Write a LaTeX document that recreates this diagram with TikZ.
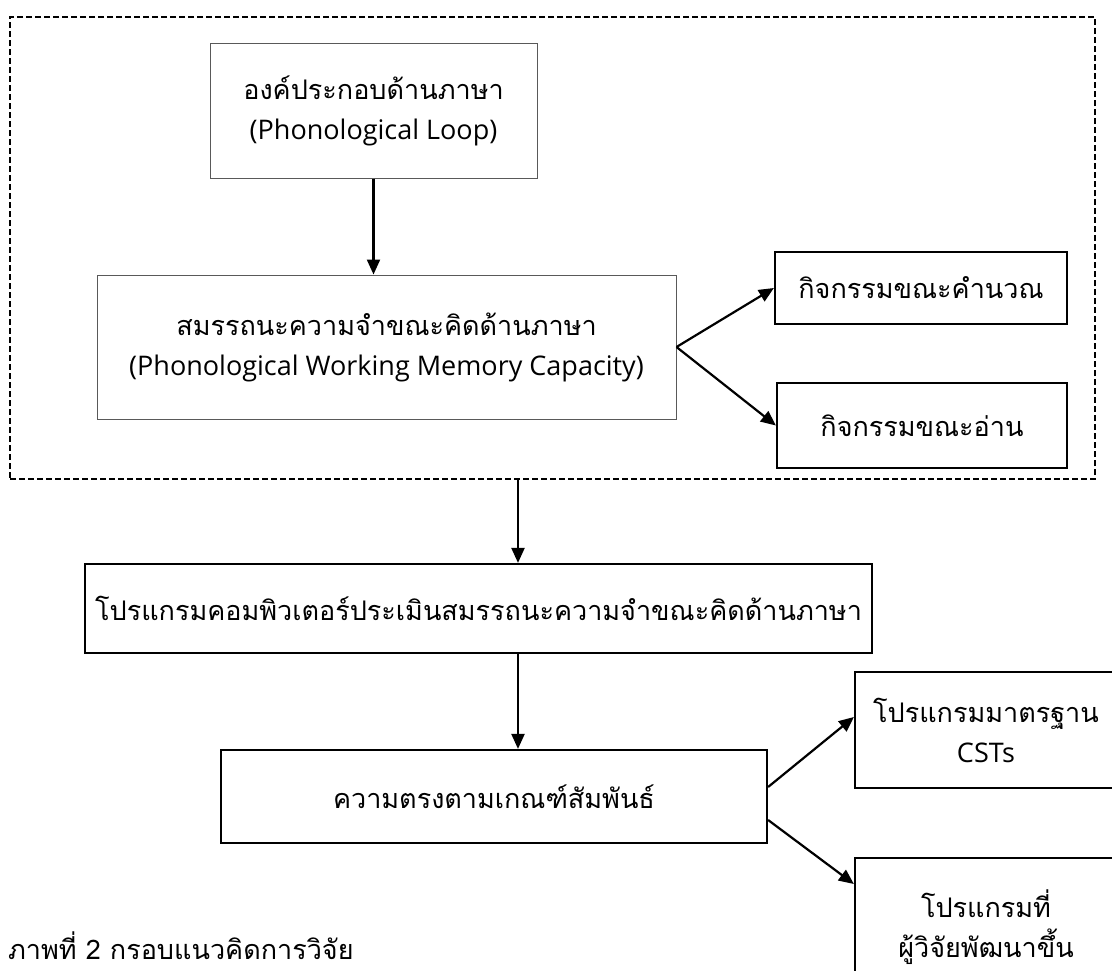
\documentclass[tikz,border=0pt]{standalone}
\usepackage{fontspec}
\setmainfont{Open Sans}
\newfontfamily\thai[Script=Thai]{Loma}
\usetikzlibrary{arrows.meta,calc}
\begin{document}
\begin{tikzpicture}[x=1pt,y=-1pt,
  txt/.style={font=\fontsize{27}{40}\selectfont},
  thaitxt/.style={font=\fontsize{27}{40}\selectfont\thai},
  box/.style={draw=black,line width=2.2pt,align=center,inner sep=0pt,txt},
  gbox/.style={box,draw=black!65,line width=1pt},
  arr/.style={line width=2.2pt,-{Triangle[length=15pt,width=13pt]}},
  framebox/.style={draw,line width=1.6pt,dash pattern=on 6pt off 3pt,inner sep=0pt}]
\useasboundingbox (0,0) rectangle (1112,970);
\node[framebox,minimum width=1085pt,minimum height=462pt] (frm) at (552.5,248) {};
\node[gbox,minimum width=327pt,minimum height=135pt] (loop) at (373.5,110.5) {{\thai องค์ประกอบด้านภาษา}\\(Phonological Loop)};
\node[gbox,minimum width=579pt,minimum height=144pt] (pwmc) at (386.5,347) {{\thai สมรรถนะความจำขณะคิดด้านภาษา}\\(Phonological Working Memory Capacity)};
\node[box,thaitxt,minimum width=292pt,minimum height=72pt] (calc) at (921,288) {กิจกรรมขณะคำนวณ};
\node[box,thaitxt,minimum width=290pt,minimum height=85pt] (read) at (922,425.5) {กิจกรรมขณะอ่าน};
\node[box,thaitxt,minimum width=787pt,minimum height=89pt] (prog) at (478.5,608.5) {โปรแกรมคอมพิวเตอร์ประเมินสมรรถนะความจำขณะคิดด้านภาษา};
\node[box,thaitxt,minimum width=546pt,minimum height=93pt] (crit) at (494,796.5) {ความตรงตามเกณฑ์สัมพันธ์};
\node[box,minimum width=262pt,minimum height=116pt] (csts) at (986,730) {{\thai โปรแกรมมาตรฐาน}\\CSTs};
\node[box,minimum width=262pt,minimum height=138pt] (dev) at (986,927) {{\thai โปรแกรมที่}\\{\thai ผู้วิจัยพัฒนาขึ้น}};
\node[anchor=base west,inner sep=0pt,thaitxt] (cap) at (8,959) {ภาพที่ 2 กรอบแนวคิดการวิจัย};
\coordinate (xa) at (518,0);
\draw[arr] (loop.south) -- (pwmc.north -| loop.south);
\draw[arr] (pwmc.east) -- (calc.west);
\draw[arr] (pwmc.east) -- (read.west);
\draw[arr] (frm.south -| xa) -- (prog.north -| xa);
\draw[arr] (prog.south -| xa) -- (crit.north -| xa);
\draw[arr] ([yshift=9.5pt]crit.east) -- ([yshift=13pt]csts.west);
\draw[arr] ([yshift=-23.5pt]crit.east) -- ([yshift=43pt]dev.west);
\end{tikzpicture}
\end{document}
